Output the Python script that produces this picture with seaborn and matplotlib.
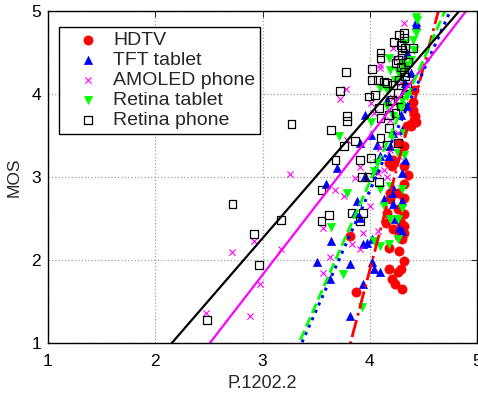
import matplotlib
matplotlib.use("Agg")
import matplotlib.pyplot as plt
import numpy as np
import pandas as pd
import seaborn as sns

# ---------------- data ----------------
hdtv_x = [3.82, 3.87, 4.15, 4.16, 4.18, 4.19, 4.18, 4.18, 4.21, 4.24, 4.22, 4.26, 4.26, 4.27, 4.29, 4.26,
          4.30, 4.32, 4.32, 4.32, 4.32, 4.32, 4.36, 4.32, 4.35, 4.41, 4.40, 4.41, 4.38, 4.30, 4.29, 4.22,
          4.27, 4.32, 4.19, 4.42, 4.27, 4.32, 4.21, 4.40, 4.43]
hdtv_y = [2.29, 1.61, 2.45, 2.57, 3.17, 2.81, 2.15, 1.89, 1.77, 1.71, 2.37, 2.61, 2.81, 2.11, 1.89, 1.85,
          1.65, 1.99, 2.33, 2.55, 2.75, 2.91, 3.03, 3.37, 3.61, 3.69, 3.81, 4.05, 3.61, 2.25, 2.45, 3.21,
          3.41, 3.13, 2.73, 3.73, 2.29, 2.41, 3.13, 3.90, 3.66]

tft_x = [3.82, 3.94, 4.04, 4.10, 4.02, 3.82, 3.51, 3.63, 3.64, 3.59, 3.69, 3.88, 3.86, 3.91, 3.97, 3.94,
         4.02, 3.91, 3.96, 4.01, 4.07, 4.16, 4.19, 4.21, 4.22, 4.24, 4.27, 4.30, 4.30, 4.30, 4.33, 4.30,
         4.29, 4.35, 4.32, 4.38, 4.43, 4.43, 4.22, 4.10, 4.18, 4.35, 4.33, 4.05, 3.96, 4.13, 4.21]
tft_y = [1.33, 1.71, 1.89, 1.85, 1.97, 1.95, 1.97, 1.77, 2.23, 2.91, 3.11, 2.71, 2.57, 2.51, 2.21, 2.19,
         2.25, 3.41, 3.75, 3.51, 3.39, 3.93, 3.37, 2.89, 2.67, 2.49, 2.39, 2.35, 2.71, 3.05, 3.21, 3.57,
         3.75, 3.85, 4.05, 4.25, 4.83, 4.87, 3.53, 3.25, 3.25, 4.49, 4.13, 3.09, 3.01, 2.73, 2.81]

amoled_x = [2.47, 2.88, 2.72, 2.92, 2.98, 3.17, 3.26, 3.56, 3.56, 3.63, 3.68, 3.76, 3.78, 3.72, 3.83, 3.91,
            3.94, 3.86, 3.91, 4.00, 4.08, 4.10, 4.08, 4.13, 4.16, 4.19, 4.10, 4.10, 4.32, 4.22, 4.23, 4.26,
            4.27, 4.18, 4.04, 4.01, 3.79, 4.19, 4.29, 4.33, 4.22]
amoled_y = [1.36, 1.32, 2.10, 2.23, 1.71, 2.13, 3.04, 2.38, 1.84, 2.04, 2.84, 2.77, 4.06, 3.94, 2.19, 2.13,
            2.32, 2.99, 3.12, 2.65, 2.35, 3.35, 3.05, 3.09, 3.00, 3.33, 4.35, 4.31, 4.85, 4.55, 4.43, 3.53,
            3.25, 3.81, 3.77, 3.89, 3.45, 3.69, 4.13, 4.33, 3.95]

rtab_x = [3.93, 3.75, 3.64, 3.79, 3.71, 4.01, 4.04, 4.10, 4.18, 4.26, 4.19, 4.26, 4.30, 4.30, 4.10, 4.13,
          4.04, 4.07, 4.19, 4.32, 4.26, 4.21, 4.32, 4.22, 4.16, 4.26, 4.30, 4.35, 4.10, 4.16, 4.24, 4.29,
          4.32, 4.35, 4.38, 4.41, 4.40, 4.43, 4.43, 4.44, 4.26, 4.19, 4.33, 4.30, 4.18]
rtab_y = [1.43, 1.83, 2.40, 2.81, 3.49, 3.66, 2.23, 2.17, 2.19, 2.25, 2.49, 2.49, 2.63, 2.85, 2.85, 2.65,
          3.07, 3.17, 2.89, 3.27, 3.29, 3.49, 3.53, 3.73, 3.85, 3.85, 3.93, 3.97, 4.07, 4.05, 4.17, 4.21,
          4.29, 4.35, 4.41, 4.53, 4.65, 4.73, 4.93, 4.89, 4.27, 4.29, 4.61, 4.37, 4.43]

rphone_x = [2.48, 2.72, 2.92, 2.97, 3.17, 3.27, 3.55, 3.55, 3.62, 3.64, 3.68, 3.76, 3.72, 3.78, 3.79, 3.79,
            3.86, 3.91, 3.83, 3.91, 3.94, 3.93, 3.99, 4.01, 4.09, 4.10, 3.99, 4.05, 4.09, 4.10, 4.18, 4.02,
            4.08, 4.02, 4.10, 4.10, 4.13, 4.16, 4.21, 4.19, 4.23, 4.27, 4.32, 4.32, 4.33, 4.30, 4.26, 4.24,
            4.29, 4.32, 4.27, 4.22, 4.26, 4.33, 4.35, 4.29, 4.24, 4.18, 4.16, 4.26, 4.40, 4.36, 4.29, 4.30]
rphone_y = [1.28, 2.67, 2.31, 1.94, 2.48, 3.64, 2.84, 2.47, 2.54, 3.57, 3.20, 3.37, 4.04, 4.27, 3.73, 3.67,
            3.43, 3.20, 2.57, 2.47, 2.57, 3.00, 3.00, 3.23, 2.94, 3.47, 3.97, 3.99, 3.83, 3.71, 3.59, 4.17,
            4.17, 4.30, 4.50, 4.43, 4.15, 4.13, 3.93, 3.91, 4.63, 4.71, 4.73, 4.67, 4.55, 4.47, 4.41, 4.37,
            4.33, 4.27, 4.17, 4.11, 4.01, 4.21, 4.09, 3.85, 3.77, 3.75, 3.39, 3.41, 4.55, 4.39, 4.59, 4.53]

series_names = ["HDTV", "TFT tablet", "AMOLED phone", "Retina tablet", "Retina phone"]
# linear fits MOS = intercept + slope * P.1202.2
fit_intercept = [-17.634, -8.718, -3.201, -8.824, -2.216]
fit_slope = [4.878, 2.888, 1.674, 2.941, 1.4925]

x_ticks = [1, 2, 3, 4, 5]
y_ticks = [1, 2, 3, 4, 5]

# ---------------- styling ----------------
sns.set_style("white")
plt.rcParams["font.family"] = ["Liberation Sans", "DejaVu Sans"]

fig = plt.figure(figsize=(4.78, 3.93), dpi=100)
ax = fig.add_axes([48 / 478, 1 - 343 / 393, 429 / 478, 332 / 393])

xs_list = [hdtv_x, tft_x, amoled_x, rtab_x, rphone_x]
ys_list = [hdtv_y, tft_y, amoled_y, rtab_y, rphone_y]
styles = [
    dict(marker="o", color="#ff0000", edgecolor="#ff0000", s=44, linewidth=0.5),
    dict(marker="^", color="#0000ff", edgecolor="#0000ff", s=34, linewidth=0.5),
    dict(marker="x", color="#ff00ff", s=20, linewidth=0.8),
    dict(marker="v", color="#00ff00", edgecolor="#00ff00", s=34, linewidth=0.5),
    dict(marker="s", facecolor="none", edgecolor="black", s=32, linewidth=0.9),
]
for name, xs, ys, st in zip(series_names, xs_list, ys_list, styles):
    df = pd.DataFrame({"P.1202.2": xs, "MOS": ys})
    sns.scatterplot(data=df, x="P.1202.2", y="MOS", ax=ax, label=name, **st)

line_styles = [
    dict(color="#ff0000", linestyle="-.", linewidth=2.0),
    dict(color="#0000ff", linestyle=":", linewidth=2.2),
    dict(color="#ff00ff", linestyle="-", linewidth=1.6),
    dict(color="#00ff00", linestyle="--", linewidth=2.0),
    dict(color="black", linestyle="-", linewidth=1.6),
]
xgrid = np.linspace(1, 5, 200)
for a, b, ls in zip(fit_intercept, fit_slope, line_styles):
    ax.plot(xgrid, a + b * xgrid, **ls)

ax.set_xlim(1, 5)
ax.set_ylim(1, 5)
ax.set_xticks(x_ticks)
ax.set_yticks(y_ticks)
ax.grid(True, color="#a0a0a0", linestyle=":", linewidth=0.9)
ax.tick_params(axis="both", direction="in", top=True, right=True, length=4, width=0.6,
               labelsize=12.5, colors="black")
ax.tick_params(axis="x", pad=8)
ax.tick_params(axis="y", pad=5)
for sp in ax.spines.values():
    sp.set_color("black")
    sp.set_linewidth(1.0)
ax.set_xlabel("P.1202.2", fontsize=13, labelpad=4)
ax.set_ylabel("MOS", fontsize=12.5, labelpad=7)

leg = ax.legend(loc="upper left", bbox_to_anchor=((59 - 48) / 429, (343 - 27) / 332),
                borderaxespad=0, fontsize=14, frameon=True, fancybox=False,
                framealpha=1, edgecolor="black", borderpad=0.25, labelspacing=0.12,
                handlelength=2.5, handletextpad=0.05)
leg.get_frame().set_linewidth(1.0)

fig.savefig("out.png", dpi=100)
